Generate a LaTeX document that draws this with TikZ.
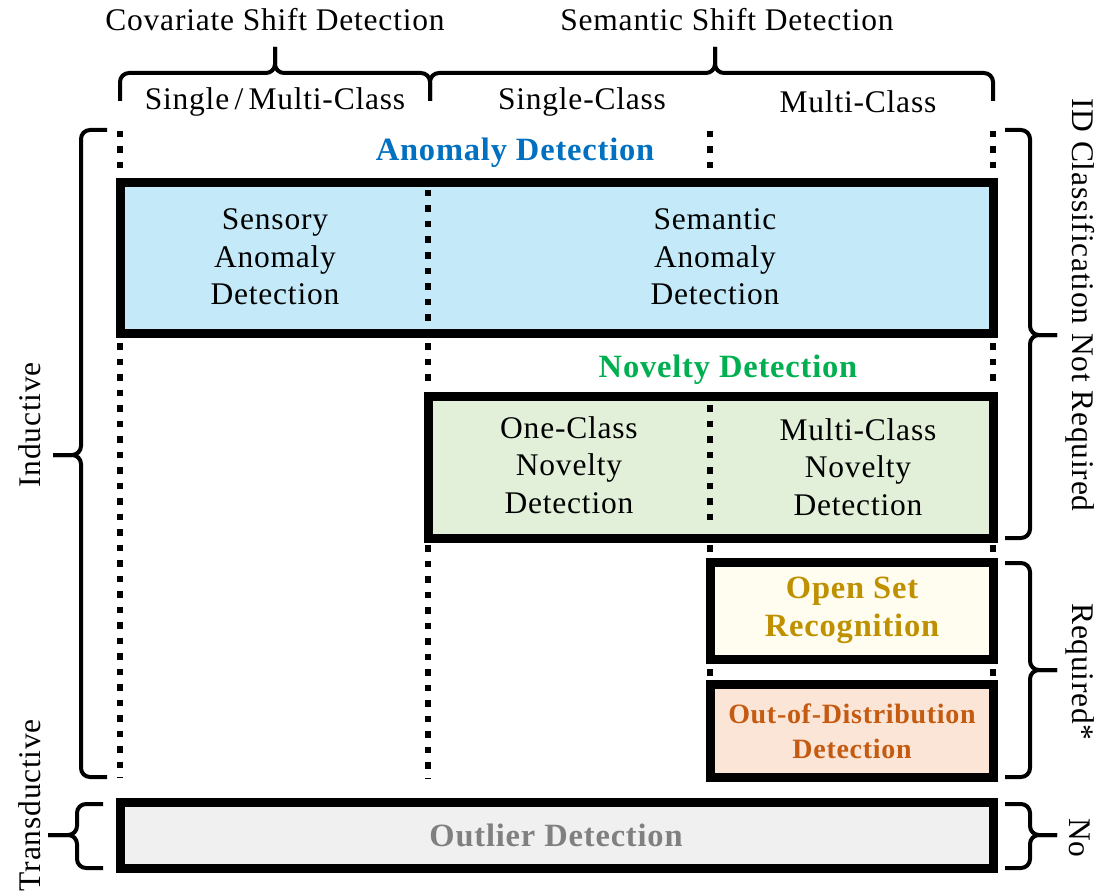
\documentclass[tikz,border=0pt]{standalone}
\usepackage{fontspec}
\setmainfont{Liberation Serif}[LetterSpace=2.5]
\definecolor{anomfill}{RGB}{196,234,249}
\definecolor{anomtext}{RGB}{0,112,192}
\definecolor{novfill}{RGB}{226,240,217}
\definecolor{novtext}{RGB}{0,176,80}
\definecolor{osrfill}{RGB}{255,253,240}
\definecolor{osrtext}{RGB}{191,144,0}
\definecolor{oodfill}{RGB}{251,229,214}
\definecolor{oodtext}{RGB}{197,90,17}
\definecolor{outfill}{RGB}{240,240,240}
\definecolor{outtext}{RGB}{128,128,128}
\tikzset{
  bigbox/.style={draw=black, line width=9pt, inner sep=0pt},
  dotline/.style={line width=6.5pt, dash pattern=on 6.5pt off 9pt},
  bracepath/.style={line width=4pt, rounded corners=9pt},
  lbl/.style={font=\fontsize{31.5}{37.5}\selectfont, align=center, inner sep=0pt},
  blbl/.style={font=\bfseries\fontsize{32.5}{38}\selectfont, align=center, inner sep=0pt},
}
\begin{document}
\begin{tikzpicture}[x=1pt,y=-1pt]
\useasboundingbox (0,0) rectangle (1099,893);

% top labels
\node[lbl] (cov) at (275,20) {Covariate Shift Detection};
\node[lbl] (sem) at (727,20) {Semantic Shift Detection};
\node[lbl] (smc) at (275,102) {Single\,/\,Multi-Class};
\node[lbl] (sc) at (582,102) {Single-Class};
\node[lbl] (mc) at (858,102) {Multi-Class};

% top braces
\draw[bracepath] (120,101) -- (120,73) -- (275,73) -- (275,47);
\draw[bracepath] (430,101) -- (430,73) -- (275,73) -- (275,47);
\draw[bracepath] (430,101) -- (430,73) -- (715,73) -- (715,47);
\draw[bracepath] (993,101) -- (993,73) -- (715,73) -- (715,47);

% dotted guide lines
\draw[dotline] (120,131) -- (120,176);
\draw[dotline] (120,343) -- (120,778);
\draw[dotline] (428,343) -- (428,388);
\draw[dotline] (428,545) -- (428,778);
\draw[dotline] (710,131) -- (710,172);
\draw[dotline] (710,545) -- (710,553);
\draw[dotline] (710,669) -- (710,677);
\draw[dotline] (993,131) -- (993,172);
\draw[dotline] (993,343) -- (993,388);
\draw[dotline] (993,545) -- (993,553);
\draw[dotline] (993,669) -- (993,677);

% anomaly
\node[blbl, text=anomtext] (adt) at (515,153) {Anomaly Detection};
\node[bigbox, fill=anomfill, minimum width=873pt, minimum height=150pt] (anom) at (556.5,258) {};
\draw[dotline] (428,190) -- (428,326);
\node[lbl] (sad) at (275,257) {Sensory\\Anomaly\\Detection};
\node[lbl] (semad) at (715,257) {Semantic\\Anomaly\\Detection};

% novelty
\node[blbl, text=novtext] (ndt) at (728,370) {Novelty Detection};
\node[bigbox, fill=novfill, minimum width=565pt, minimum height=142pt] (nov) at (710.5,467) {};
\draw[dotline] (710,405) -- (710,527);
\node[lbl] (ocnd) at (569,465) {One-Class\\Novelty\\Detection};
\node[lbl] (mcnd) at (858,467) {Multi-Class\\Novelty\\Detection};

% OSR
\node[bigbox, fill=osrfill, minimum width=283pt, minimum height=97pt] (osr) at (851.5,611) {};
\node[blbl, text=osrtext] (osrt) at (852,610) {Open Set\\Recognition};

% OOD
\node[bigbox, fill=oodfill, minimum width=283pt, minimum height=93pt] (ood) at (851.5,730.5) {};
\node[blbl, text=oodtext, font=\bfseries\fontsize{28}{35}\selectfont] (oodt) at (852,731) {Out-of-Distribution\\Detection};

% outlier
\node[bigbox, fill=outfill, minimum width=873pt, minimum height=66pt] (outl) at (556.5,835) {};
\node[blbl, text=outtext] (outt) at (556,835) {Outlier Detection};

% left braces
\draw[bracepath] (107,130) -- (81,130) -- (81,455) -- (53,455);
\draw[bracepath] (107,777) -- (81,777) -- (81,455) -- (53,455);
\draw[bracepath] (103,804) -- (77,804) -- (77,835) -- (48,835);
\draw[bracepath] (103,868) -- (77,868) -- (77,835) -- (48,835);
\node[lbl, rotate=90] (ind) at (30,425) {Inductive};
\node[lbl, rotate=90] (trd) at (30,805) {Transductive};

% right braces
\draw[bracepath] (1005,130) -- (1030,130) -- (1030,335) -- (1057,335);
\draw[bracepath] (1005,538) -- (1030,538) -- (1030,335) -- (1057,335);
\draw[bracepath] (1005,563) -- (1030,563) -- (1030,670) -- (1057,670);
\draw[bracepath] (1005,777) -- (1030,777) -- (1030,670) -- (1057,670);
\draw[bracepath] (1005,804) -- (1030,804) -- (1030,835) -- (1057,835);
\draw[bracepath] (1005,868) -- (1030,868) -- (1030,835) -- (1057,835);
\node[lbl, rotate=-90] (idnr) at (1080,305) {ID Classification Not Required};
\node[lbl, rotate=-90] (req) at (1080,672) {Required*};
\node[lbl, rotate=-90] (no) at (1080,838) {No};
\end{tikzpicture}
\end{document}
